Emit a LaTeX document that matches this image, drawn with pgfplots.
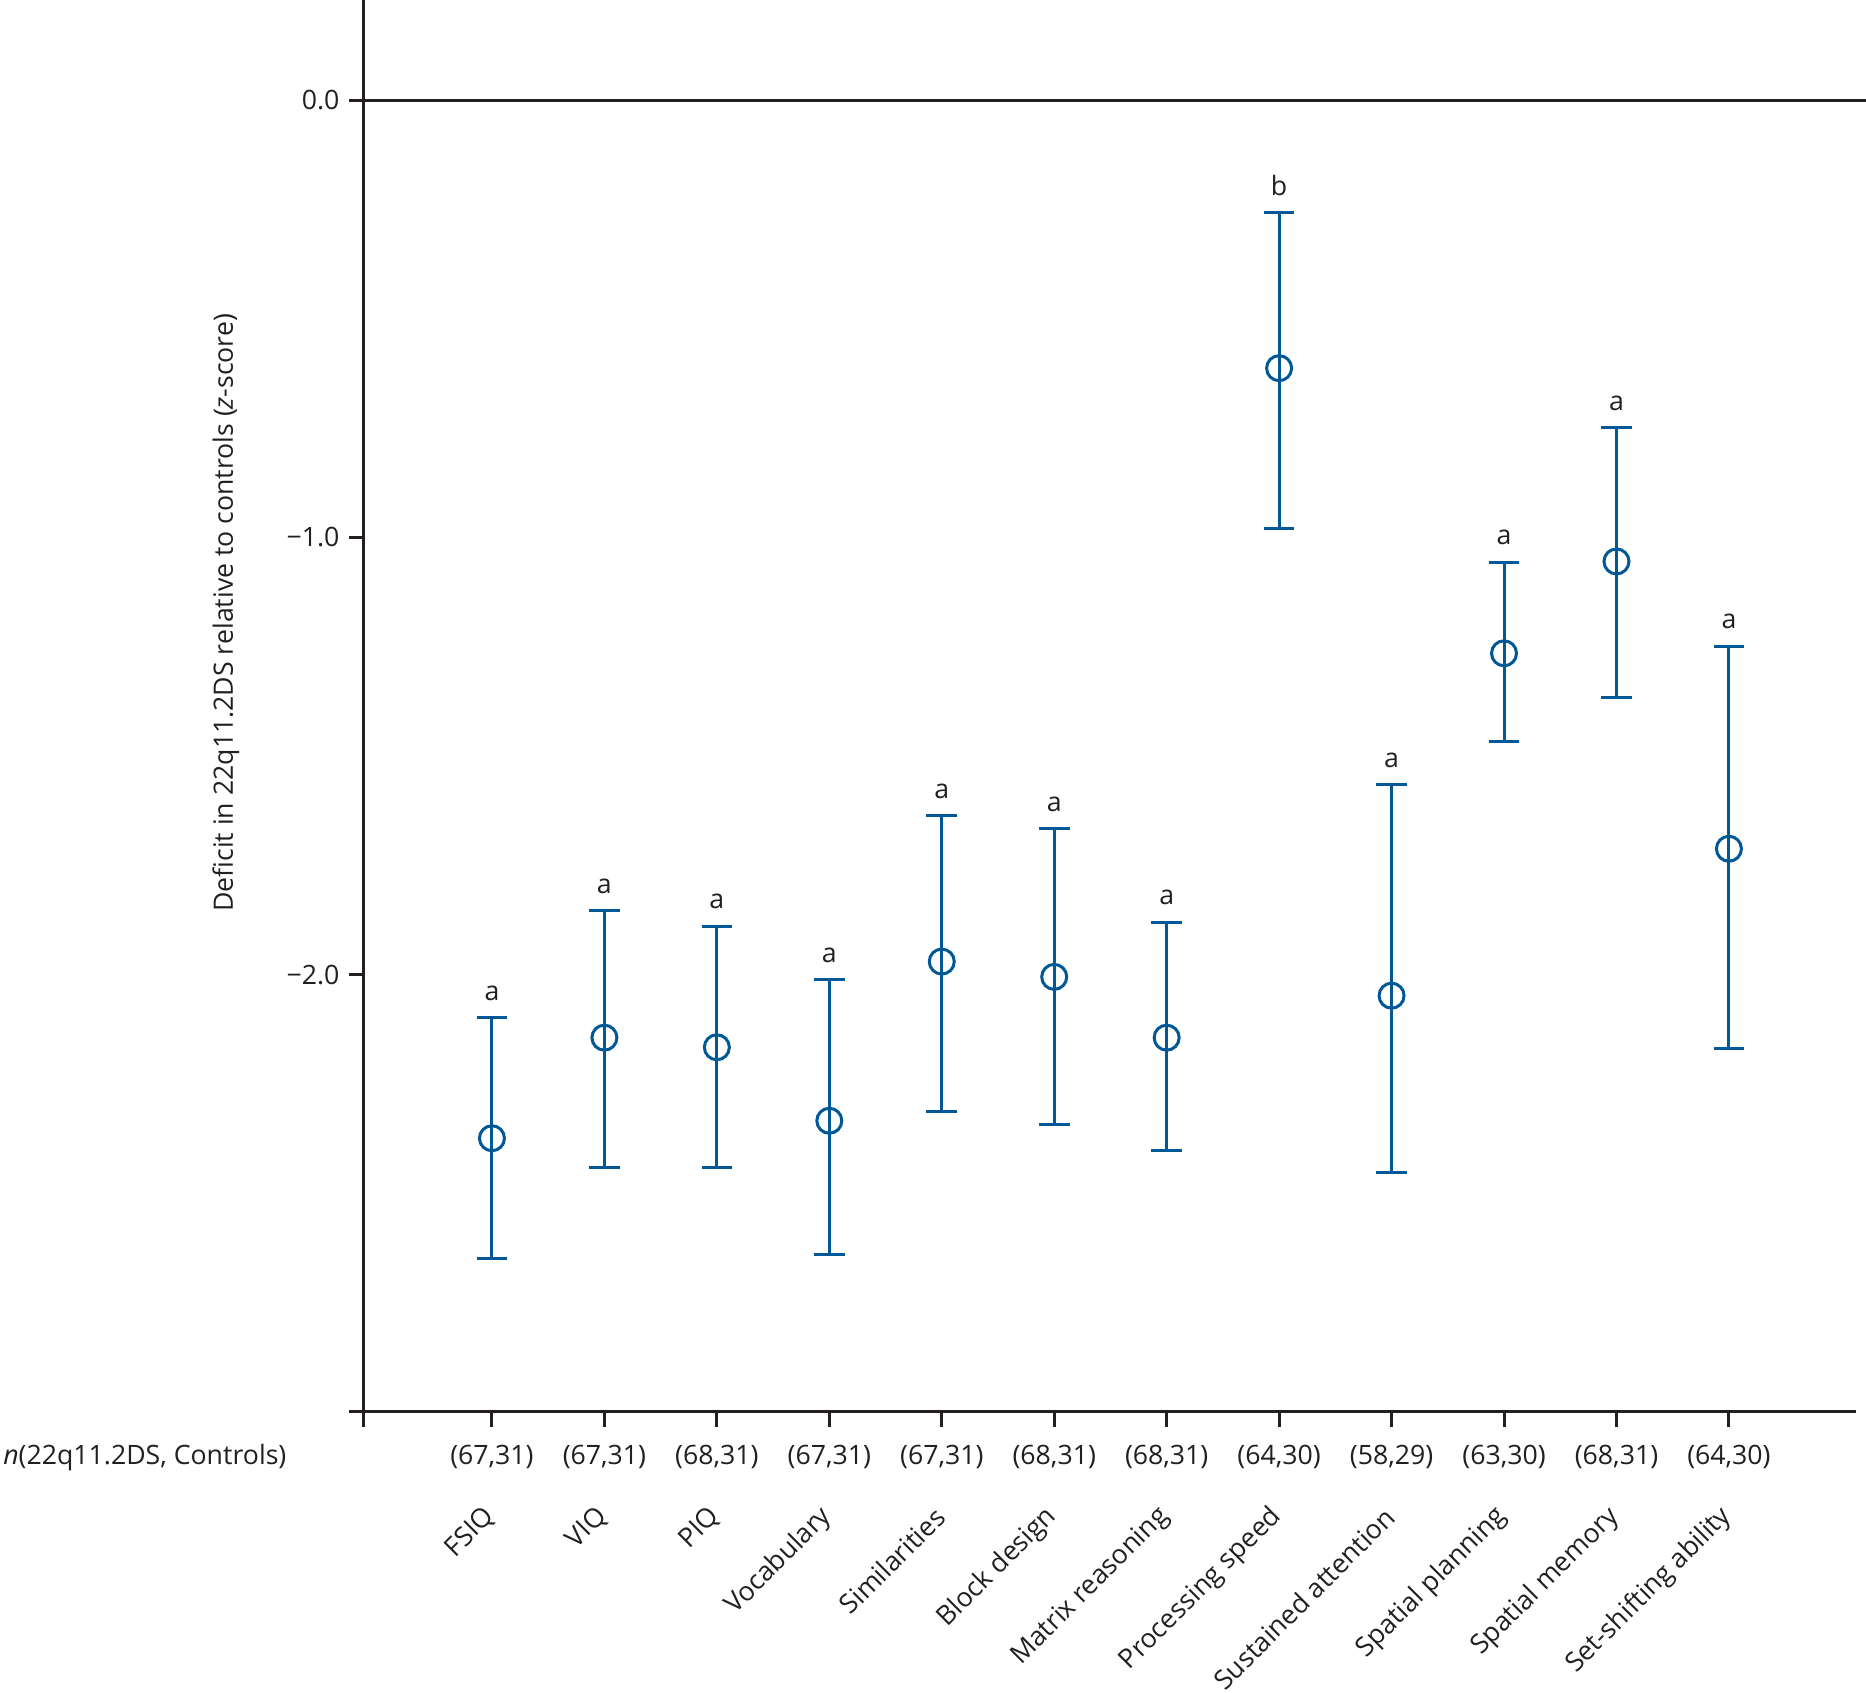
\documentclass[border=0pt]{standalone}
\usepackage{pgfplots}
\pgfplotsset{compat=1.18}
\usepackage{pgfplotstable}
\usepackage{fontspec}
\setmainfont{Open Sans}

\definecolor{ptblue}{RGB}{0,88,150}
\definecolor{axgray}{RGB}{35,31,32}

% deficit (z) with upper / lower distance to the CI ends
\pgfplotstableread{
x   y       ep      em
1   -2.374  0.276   0.275
2   -2.144  0.291   0.296
3   -2.166  0.277   0.274
4   -2.334  0.323   0.306
5   -1.970  0.334   0.342
6   -2.005  0.339   0.337
7   -2.144  0.264   0.258
8   -0.613  0.355   0.367
9   -2.048  0.482   0.404
10  -1.265  0.208   0.201
11  -1.055  0.306   0.310
12  -1.712  0.463   0.456
}\deficits

% significance letters over the upper CI end
\pgfplotstableread{
x   top     lab
1   -2.098  a
2   -1.853  a
3   -1.889  a
4   -2.011  a
5   -1.636  a
6   -1.666  a
7   -1.880  a
8   -0.258  b
9   -1.566  a
10  -1.057  a
11  -0.749  a
12  -1.249  a
}\letters

\begin{document}
\fontsize{8}{9.6}\selectfont
\begin{tikzpicture}
\path[use as bounding box] (-109.2pt,-84.3pt) rectangle (450.6pt,423.6pt);
\begin{axis}[
  width=447.6pt, height=423.6pt, scale only axis,
  xmin=-0.138, xmax=13.13, ymin=-3, ymax=0.229,
  axis x line*=bottom, axis y line*=left,
  axis line style={axgray, line width=0.9pt, -},
  tick style={axgray, line width=0.9pt},
  major tick length=4.5pt, tick align=outside,
  clip=false,
  xtick={-0.138,1,2,3,4,5,6,7,8,9,10,11,12},
  xticklabels={,(67,31),(67,31),(68,31),(67,31),(67,31),(68,31),(68,31),(64,30),(58,29),(63,30),(68,31),(64,30)},
  xticklabel style={anchor=base, yshift=-11.4pt, text=axgray},
  extra x ticks={1,2,3,4,5,6,7,8,9,10,11,12},
  extra x tick labels={FSIQ,VIQ,PIQ,Vocabulary,Similarities,Block design,Matrix reasoning,Processing speed,Sustained attention,Spatial planning,Spatial memory,Set-shifting ability},
  extra x tick style={tick style={draw=none}, xticklabel style={yshift=-12.3pt, xshift=1.5pt, rotate=45, anchor=east}},
  ytick={-3,-2,-1,0},
  yticklabels={,{−2.0},{−1.0},{0.0}},
  yticklabel style={text=axgray},
  ylabel={Deficit in 22q11.2DS relative to controls (\textit{z}-score)},
  every axis y label/.style={at={(axis description cs:-0.0925,0.566)}, rotate=90, anchor=center, text=axgray},
]
\addplot[axgray, line width=0.9pt, forget plot] coordinates {(-0.138,0) (13.22,0)};
\addplot[ptblue, line width=0.9pt, only marks, mark=o, mark size=3.75pt,
  error bars/.cd, y dir=both, y explicit,
  error bar style={line width=0.9pt, ptblue},
  error mark options={rotate=90, mark size=4.6pt, line width=0.9pt, ptblue}]
  table[x=x, y=y, y error plus=ep, y error minus=em] {\deficits};
\addplot[draw=none, mark=none, nodes near coords, point meta=explicit symbolic,
  nodes near coords style={anchor=base, yshift=5.2pt, text=axgray}]
  table[x=x, y=top, meta=lab] {\letters};
\node[anchor=base east, inner sep=0pt, text=axgray] at (rel axis cs:0,0) [xshift=-23.1pt, yshift=-15.9pt] {\textit{n}(22q11.2DS, Controls)};
\end{axis}
\end{tikzpicture}
\end{document}
